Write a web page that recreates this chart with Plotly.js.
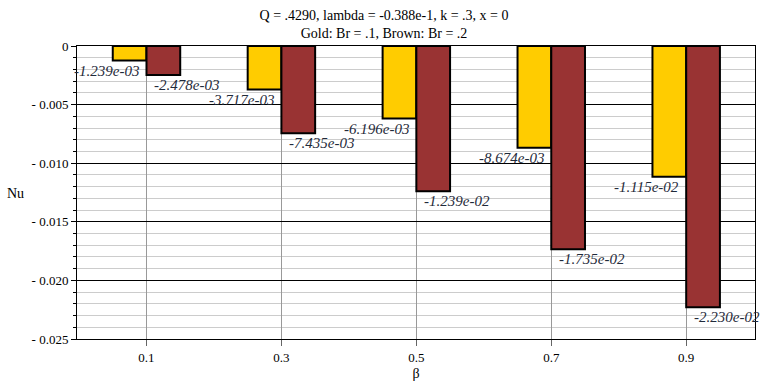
<!DOCTYPE html>
<html>
<head>
<meta charset="utf-8">
<script src="https://cdn.plot.ly/plotly-3.0.1.min.js"></script>
<style>body{margin:0;padding:0;background:#fff}#chart{width:768px;height:384px}</style>
</head>
<body>
<div id="chart"></div>
<script>
const beta = [0.1, 0.3, 0.5, 0.7, 0.9];
const nuGold = [-1.239e-3, -3.717e-3, -6.196e-3, -8.674e-3, -1.115e-2];
const nuBrown = [-2.478e-3, -7.435e-3, -1.239e-2, -1.735e-2, -2.230e-2];
const yTickVals = [0, -0.005, -0.010, -0.015, -0.020, -0.025];
const yTickText = ["0", "- 0.005", "- 0.010", "- 0.015", "- 0.020", "- 0.025"];
const xTickText = ["0.1", "0.3", "0.5", "0.7", "0.9"];

function fmt(v) {
  let s = v.toExponential(3);
  return s.replace(/e([+-])(\d)$/, "e$10$2");
}

const serif = "Liberation Serif";
const barW = 0.05;

const traces = [
  {type: "bar", x: beta, y: nuGold, width: barW, offset: -barW,
   marker: {color: "#FFCC00", line: {color: "#000", width: 2}}, hoverinfo: "none"},
  {type: "bar", x: beta, y: nuBrown, width: barW, offset: 0,
   marker: {color: "#993333", line: {color: "#000", width: 2}}, hoverinfo: "none"}
];

const annotations = [];
beta.forEach((b, i) => {
  annotations.push({x: b - 0.008, y: nuGold[i], xref: "x", yref: "y", text: fmt(nuGold[i]),
    showarrow: false, xanchor: "right", yanchor: "top", yshift: 0,
    font: {family: serif, size: 15, color: "#1f2a3a", style: "italic"}});
  annotations.push({x: b + 0.008, y: nuBrown[i], xref: "x", yref: "y", text: fmt(nuBrown[i]),
    showarrow: false, xanchor: "left", yanchor: "top", yshift: 0,
    font: {family: serif, size: 15, color: "#1f2a3a", style: "italic"}});
});

const pw = 768 - 77 - 13, ph = 384 - 46 - 45;
annotations.push({x: (16 - 77) / pw, y: (384 - 45 - 193) / ph, xref: "paper", yref: "paper",
  text: "Nu", showarrow: false, xanchor: "center", yanchor: "middle",
  font: {family: serif, size: 14, color: "#000"}});

const layout = {
  width: 768, height: 384,
  margin: {l: 77, r: 13, t: 46, b: 45},
  paper_bgcolor: "#fff", plot_bgcolor: "#fff",
  showlegend: false,
  barmode: "overlay",
  title: {text: "Q = .4290, lambda = -0.388e-1, k = .3, x = 0<br>Gold: Br = .1, Brown: Br = .2",
    x: 0.5, xref: "container", y: 1 - 20 / 384, yref: "container", yanchor: "middle",
    font: {family: serif, size: 14, color: "#000"}},
  font: {family: serif, size: 13, color: "#000"},
  xaxis: {range: [-0.003, 1.002], tickvals: beta, ticktext: xTickText,
    showgrid: true, gridcolor: "#999", gridwidth: 1, zeroline: false,
    ticks: "outside", ticklen: 6, tickcolor: "#666",
    showline: true, linecolor: "#000", linewidth: 1, mirror: true,
    tickfont: {family: serif, size: 13},
    title: {text: "β", font: {family: serif, size: 14}, standoff: 4}},
  yaxis: {range: [-0.025, 0], tickvals: yTickVals, ticktext: yTickText,
    showgrid: true, gridcolor: "#000", gridwidth: 1, zeroline: false,
    ticks: "outside", ticklen: 5, tickcolor: "#000",
    showline: true, linecolor: "#000", linewidth: 1, mirror: true,
    tickfont: {family: serif, size: 13},
    minor: {dtick: 0.001, tick0: 0, showgrid: true, gridcolor: "#ccc", gridwidth: 1,
      ticks: "outside", ticklen: 3, tickcolor: "#000"}},
  annotations: annotations
};

Plotly.newPlot("chart", traces, layout, {staticPlot: true});
</script>
</body>
</html>
